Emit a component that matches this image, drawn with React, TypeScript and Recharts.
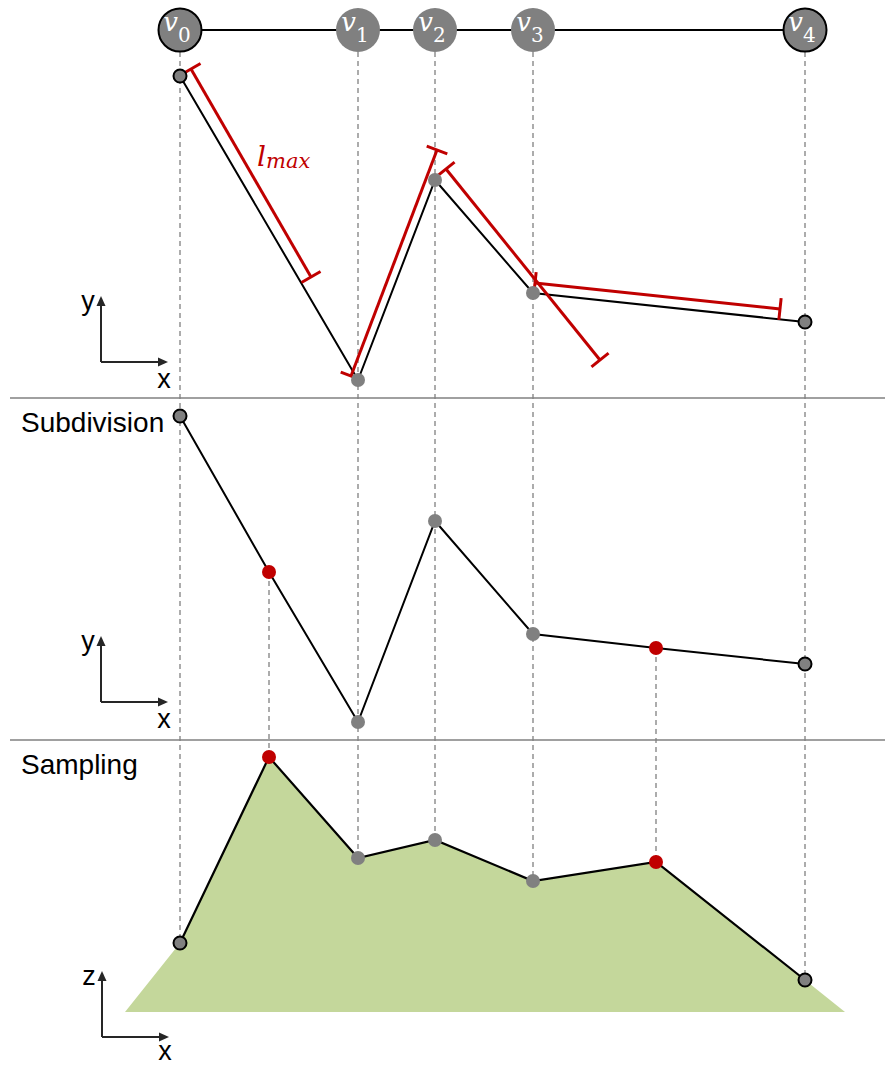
import React from 'react';
import { ComposedChart, Line, Area, Scatter, XAxis, YAxis, ReferenceLine, ReferenceDot } from 'recharts';

// input polyline vertices v0..v4 (x positions shared by all three panels)
const vertexNames = ['0', '1', '2', '3', '4'];
const vertexX = [180, 358, 435, 533, 805];
const vertexRowY = 30;
const inputY = [76, 380, 180, 293, 322];
const outlinedVertex = [true, false, false, false, true];

// l_max measuring segments in the top panel
const lmaxStart = [[191, 69], [351, 376], [446, 169], [535, 283]];
const lmaxEnd = [[311, 277], [437, 150], [600, 360], [780, 309]];

// subdivided polyline (two inserted points)
const subX = [180, 269, 358, 435, 533, 656, 805];
const subY = [416, 572, 722, 521, 634, 648, 664];
const inserted = [false, true, false, false, false, true, false];
const outlinedSub = [true, false, false, false, false, false, true];

// sampled heights, bottom panel
const sampledZ = [943, 757, 858, 840, 881, 862, 980];
const terrainEdgeX = [125, 845];
const terrainBase = 1012;

const separatorsY = [398, 740];
const panelTitles = ['Subdivision', 'Sampling'];
const panelTitleY = [432, 774];

const axisOrigins = [[101, 362], [101, 702], [102, 1037]];
const axisUpLabel = ['y', 'y', 'z'];
const axisRightLabelDy = [26, 26, 23];

const W = 885;
const H = 1065;
const GRAY = '#808080';
const RED = '#c00000';
const NODE_R = 22;

const nodeData = vertexX.map((x, i) => ({ x, y: vertexRowY, name: vertexNames[i], outlined: outlinedVertex[i] }));
const inputData = vertexX.map((x, i) => ({ x, y: inputY[i], outlined: outlinedVertex[i], red: false }));
const subData = subX.map((x, i) => ({ x, y: subY[i], outlined: outlinedSub[i], red: inserted[i] }));
const sampleData = subX.map((x, i) => ({ x, y: sampledZ[i], outlined: outlinedSub[i], red: inserted[i] }));
const terrainData = [
  { x: terrainEdgeX[0], y: terrainBase },
  ...sampleData.map(d => ({ x: d.x, y: d.y })),
  { x: terrainEdgeX[1], y: terrainBase },
];
const dropLines = subX.map((x, i) => [
  { x, y: inserted[i] ? subY[i] : vertexRowY + NODE_R },
  { x, y: sampledZ[i] },
]);

const NodeShape = (props: any) => {
  const { cx, cy, payload } = props;
  return (
    <g>
      <circle cx={cx} cy={cy} r={payload.outlined ? 21.5 : 22} fill={GRAY}
        stroke={payload.outlined ? '#000' : 'none'} strokeWidth={2} />
      <text x={cx - 3} y={cy + 0.5} textAnchor="middle" fill="#fff" fontFamily="DejaVu Serif">
        <tspan fontStyle="italic" fontSize={26}>v</tspan>
        <tspan fontSize={20} dy={11.5}>{payload.name}</tspan>
      </text>
    </g>
  );
};

const PointShape = (props: any) => {
  const { cx, cy, payload } = props;
  if (payload.red) return <circle cx={cx} cy={cy} r={7} fill={RED} />;
  return (
    <circle cx={cx} cy={cy} r={payload.outlined ? 6.5 : 7} fill={GRAY}
      stroke={payload.outlined ? '#000' : 'none'} strokeWidth={2} />
  );
};

const CappedSegment = (props: any) => {
  const { x1, y1, x2, y2 } = props;
  const len = Math.hypot(x2 - x1, y2 - y1) || 1;
  const nx = (-(y2 - y1) / len) * 11;
  const ny = ((x2 - x1) / len) * 11;
  return (
    <g stroke={RED} strokeWidth={3}>
      <line x1={x1} y1={y1} x2={x2} y2={y2} />
      <line x1={x1 - nx} y1={y1 - ny} x2={x1 + nx} y2={y1 + ny} />
      <line x1={x2 - nx} y1={y2 - ny} x2={x2 + nx} y2={y2 + ny} />
    </g>
  );
};

const Arrow = (props: any) => {
  const { x1, y1, x2, y2 } = props;
  const a = Math.atan2(y2 - y1, x2 - x1);
  const bx = x2 - 10 * Math.cos(a);
  const by = y2 - 10 * Math.sin(a);
  const px = -Math.sin(a) * 4.5;
  const py = Math.cos(a) * 4.5;
  return (
    <g>
      <line x1={x1} y1={y1} x2={bx} y2={by} stroke="#262626" strokeWidth={2} />
      <polygon points={`${x2},${y2} ${bx + px},${by + py} ${bx - px},${by - py}`} fill="#262626" />
    </g>
  );
};

const label = (text: string, size: number, anchor: 'start' | 'middle' = 'start') => (props: any) => (
  <text x={props.cx} y={props.cy} fontFamily="Liberation Sans, Arial, sans-serif" fontSize={size}
    textAnchor={anchor} fill="#000">{text}</text>
);

const LmaxLabel = (props: any) => (
  <text x={props.cx} y={props.cy} fill={RED} fontFamily="DejaVu Serif" fontStyle="italic">
    <tspan fontSize={28}>l</tspan>
    <tspan fontSize={21} dy={2}>max</tspan>
  </text>
);

export default function App() {
  return (
    <div style={{ position: 'absolute', left: 0, top: 0, background: '#fff' }}>
      <ComposedChart width={W} height={H} margin={{ top: 0, right: 0, bottom: 0, left: 0 }}>
        <XAxis dataKey="x" type="number" domain={[0, W]} hide allowDataOverflow />
        <YAxis dataKey="y" type="number" domain={[0, H]} reversed hide allowDataOverflow />

        <Area data={terrainData} dataKey="y" type="linear" baseValue={terrainBase}
          fill="#c4d79b" fillOpacity={1} stroke="none" dot={false} activeDot={false} isAnimationActive={false} />

        {dropLines.map((seg, i) => (
          <Line key={`drop-${i}`} data={seg} dataKey="y" type="linear" stroke={GRAY} strokeWidth={1.3}
            strokeDasharray="5 4" dot={false} activeDot={false} isAnimationActive={false} />
        ))}

        {separatorsY.map(y => (
          <ReferenceLine key={`sep-${y}`} segment={[{ x: 10, y }, { x: W, y }]} stroke={GRAY} strokeWidth={1.5} />
        ))}

        <Line data={nodeData} dataKey="y" type="linear" stroke="#000" strokeWidth={2}
          dot={false} activeDot={false} isAnimationActive={false} />
        <Line data={inputData} dataKey="y" type="linear" stroke="#000" strokeWidth={2}
          dot={false} activeDot={false} isAnimationActive={false} />
        <Line data={subData} dataKey="y" type="linear" stroke="#000" strokeWidth={2}
          dot={false} activeDot={false} isAnimationActive={false} />
        <Line data={sampleData} dataKey="y" type="linear" stroke="#000" strokeWidth={2.2}
          dot={false} activeDot={false} isAnimationActive={false} />

        <Scatter data={nodeData} shape={NodeShape} isAnimationActive={false} />
        <Scatter data={inputData} shape={PointShape} isAnimationActive={false} />
        <Scatter data={subData} shape={PointShape} isAnimationActive={false} />
        <Scatter data={sampleData} shape={PointShape} isAnimationActive={false} />

        {lmaxStart.map((s, i) => (
          <ReferenceLine key={`lmax-${i}`} segment={[{ x: s[0], y: s[1] }, { x: lmaxEnd[i][0], y: lmaxEnd[i][1] }]}
            shape={CappedSegment} />
        ))}
        <ReferenceDot x={257} y={166} shape={LmaxLabel} />

        {axisOrigins.map((o, i) => (
          <ReferenceLine key={`up-${i}`} segment={[{ x: o[0], y: o[1] }, { x: o[0], y: o[1] - 66 }]} shape={Arrow} />
        ))}
        {axisOrigins.map((o, i) => (
          <ReferenceLine key={`right-${i}`} segment={[{ x: o[0], y: o[1] }, { x: o[0] + 67, y: o[1] }]} shape={Arrow} />
        ))}
        {axisOrigins.map((o, i) => (
          <ReferenceDot key={`up-l-${i}`} x={o[0] - 13} y={o[1] - 52} shape={label(axisUpLabel[i], 27, 'middle')} />
        ))}
        {axisOrigins.map((o, i) => (
          <ReferenceDot key={`right-l-${i}`} x={o[0] + 63} y={o[1] + axisRightLabelDy[i]} shape={label('x', 27, 'middle')} />
        ))}

        {panelTitles.map((t, i) => (
          <ReferenceDot key={t} x={21} y={panelTitleY[i]} shape={label(t, 28)} />
        ))}
      </ComposedChart>
    </div>
  );
}
